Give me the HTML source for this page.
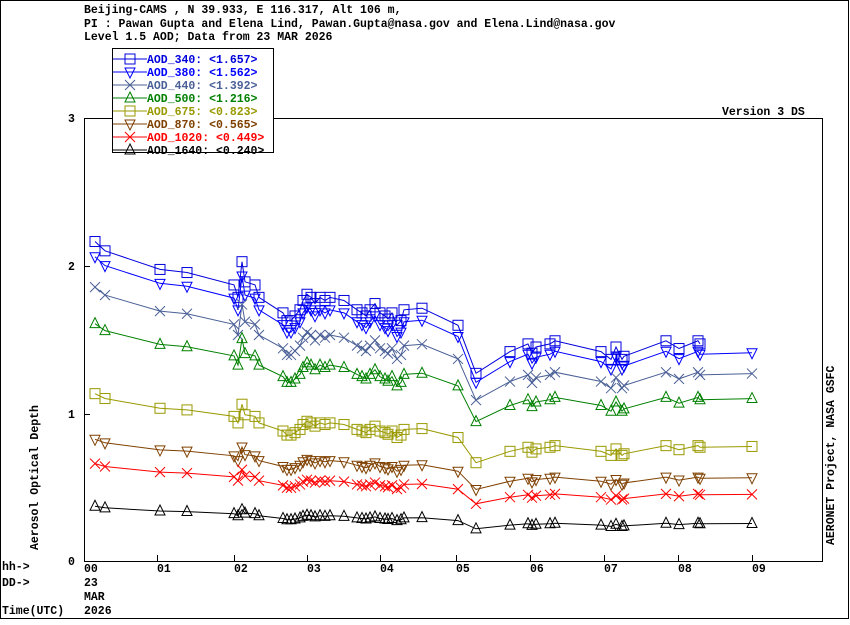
<!DOCTYPE html><html><head><style>body{margin:0;background:#fff}svg text{font-family:"Liberation Mono",monospace;font-weight:bold;font-size:11.5px}</style></head><body>
<svg id="s" width="850" height="620" xmlns="http://www.w3.org/2000/svg">
<rect x="0.5" y="0.5" width="848" height="618" fill="none" stroke="#000"/>
<text x="84" y="13">Beijing-CAMS , N 39.933, E 116.317, Alt 106 m,</text>
<text x="84" y="27">PI : Pawan Gupta and Elena Lind, Pawan.Gupta@nasa.gov and Elena.Lind@nasa.gov</text>
<text x="84" y="40">Level 1.5 AOD; Data from 23 MAR 2026</text>
<text x="722" y="115">Version 3 DS</text>
<rect x="84.5" y="118.5" width="738" height="443" fill="none" stroke="#000"/>
<text x="68" y="122">3</text><text x="68" y="270">2</text><text x="68" y="418">1</text><text x="68" y="565">0</text>
<line x1="84" y1="266.5" x2="90" y2="266.5" stroke="#000"/><line x1="84" y1="414.5" x2="90" y2="414.5" stroke="#000"/>
<text transform="translate(38,550) rotate(-90)">Aerosol Optical Depth</text>
<text transform="translate(834,545) rotate(-90)">AERONET Project, NASA GSFC</text>
<text x="2" y="570">hh-&gt;</text><text x="2" y="586">DD-&gt;</text><text x="2" y="614">Time(UTC)</text>
<text x="84" y="586">23</text><text x="84" y="600">MAR</text><text x="84" y="614">2026</text>
<g id="ax"></g><g id="d"></g>
<rect x="112.5" y="48.5" width="161" height="104" fill="#fff" stroke="#000"/>
<g id="lg"></g>
</svg>
<script>
const NS="http://www.w3.org/2000/svg",d=document.getElementById('d'),ax=document.getElementById('ax'),lg=document.getElementById('lg');
function el(p,t,a){const e=document.createElementNS(NS,t);for(const k in a)e.setAttribute(k,a[k]);p.appendChild(e);return e}
const xs=[84,157,234,307,380,456,530,604,678,752];
xs.forEach((x,i)=>{el(ax,'line',{x1:x+.5,y1:555,x2:x+.5,y2:561,stroke:'#000'});const t=el(ax,'text',{x:x,y:572});t.textContent='0'+i;});
const X=x=>x,Y=v=>561-v*147.7;
const p380=[[95,2.06],[105,2.0],[160,1.88],[187,1.86],[234,1.78],[238,1.70],[242,1.93],[245,1.80],[255,1.78],[259,1.70],[283,1.60],[287,1.55],[291,1.55],[295,1.58],[300,1.62],[303,1.68],[307,1.72],[311,1.70],[315,1.66],[320,1.70],[325,1.68],[330,1.70],[344,1.68],[357,1.62],[362,1.60],[366,1.58],[370,1.62],[375,1.66],[380,1.60],[385,1.58],[388,1.56],[392,1.60],[397,1.52],[401,1.55],[404,1.62],[422,1.63],[458,1.52],[476,1.21],[510,1.35],[528,1.40],[532,1.34],[536,1.38],[550,1.40],[555,1.42],[601,1.35],[611,1.30],[616,1.38],[622,1.30],[624,1.32],[666,1.42],[679,1.37],[698,1.42],[700,1.40],[752,1.41]];
const S=[["AOD_340: <1.657>","#0000dd","sq",1.05],["AOD_380: <1.562>","#0000ff","dt",1],["AOD_440: <1.392>","#4a6096","x",0.90],["AOD_500: <1.216>","#008000","ut",0.78],["AOD_675: <0.823>","#999900","sq",0.55],["AOD_870: <0.565>","#7f4000","dt",0.40],["AOD_1020: <0.449>","#ff0000","x",0.32],["AOD_1640: <0.240>","#000000","ut",0.18]];
function mk(g,sh,x,y,c){const a={fill:'none',stroke:c,'stroke-width':1};
 if(sh=='sq')el(g,'rect',Object.assign({x:x-5,y:y-5,width:10,height:10},a));
 else if(sh=='dt')el(g,'polygon',Object.assign({points:`${x-5},${y-4} ${x+5},${y-4} ${x},${y+6}`},a));
 else if(sh=='ut')el(g,'polygon',Object.assign({points:`${x-5},${y+4} ${x+5},${y+4} ${x},${y-6}`},a));
 else{el(g,'path',Object.assign({d:`M${x-5} ${y-5}L${x+5} ${y+5}M${x+5} ${y-5}L${x-5} ${y+5}`},a));}}
S.forEach((s,i)=>{let pts=p380.map(p=>[p[0],p[1]*s[3]]);if(i==0)pts=pts.slice(0,-1);
 el(d,'polyline',{points:pts.map(p=>X(p[0])+','+Y(p[1]).toFixed(1)).join(' '),fill:'none',stroke:s[1]});
 pts.forEach(p=>mk(d,s[2],X(p[0]),Y(p[1]),s[1]));
 const ly=59+i*13;el(lg,'line',{x1:113,y1:ly,x2:147,y2:ly,stroke:s[1]});mk(lg,s[2],130,ly,s[1]);
 const t=el(lg,'text',{x:147,y:ly+4,fill:s[1]});t.textContent=s[0];});
</script></body></html>
